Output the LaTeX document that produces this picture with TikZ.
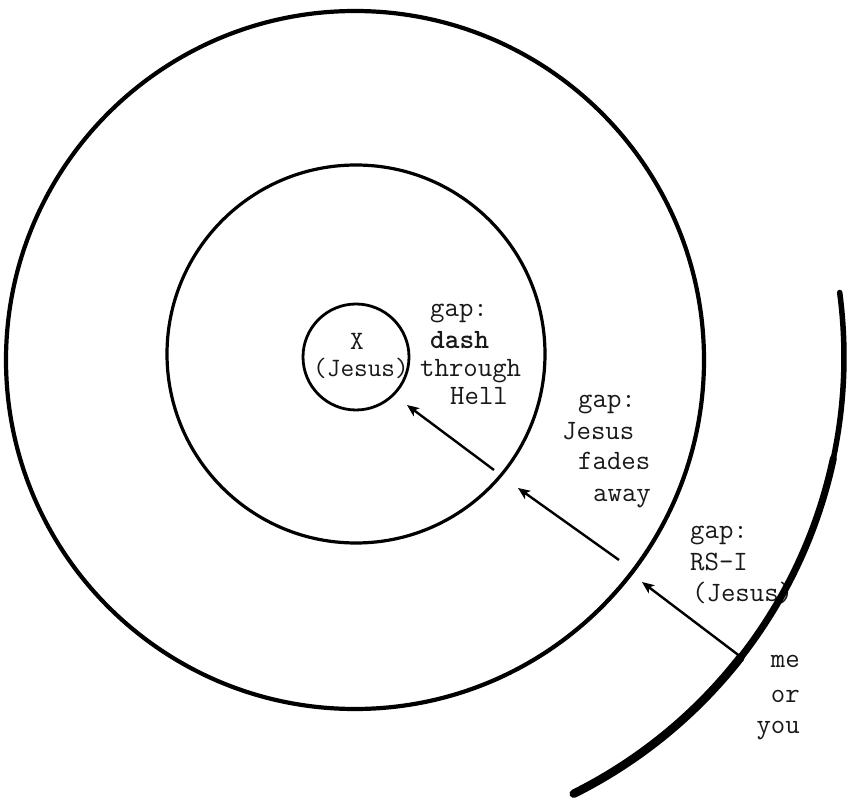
\documentclass[tikz,border=0pt]{standalone}
\usepackage{fontspec}
\usetikzlibrary{arrows.meta}
\begin{document}
\begin{tikzpicture}[x=1pt,y=-1pt,
  ring/.style={draw=black, circle, inner sep=0pt},
  lbl/.style={font=\ttfamily\fontsize{28}{30}\selectfont, text=black!90, inner sep=0pt, anchor=base west},
  lblc/.style={lbl, font=\ttfamily\fontsize{26.5}{30}\selectfont, anchor=base},
  lblr/.style={lbl, anchor=base east},
  arr/.style={line width=2.4pt, -{Stealth[length=12pt,width=10pt,inset=3pt]}},
  spiral/.style={line cap=round}]
\useasboundingbox (0,0) rectangle (847,802);
\fill[white] (0,0) rectangle (847,802);

% rings
\node[ring, minimum size=106pt, line width=2.8pt] (inner) at (356,357) {};
\node[ring, minimum size=378pt, line width=3.2pt] (middle) at (356,354) {};
\node[ring, minimum size=698pt, line width=4.2pt] (outer) at (355,360) {};

% centre labels
\node[lblc] (x) at (357,350) {X};
\node[lblc] (jesus) at (361,377) {(Jesus)};

% block 1
\node[lbl] (g1) at (430,317) {gap:};
\node[lbl] (d1) at (430,349) {\bfseries dash};
\node[lbl] (t1) at (420,377) {through};
\node[lbl] (h1) at (450,405) {Hell};

% block 2
\node[lbl] (g2) at (578,408) {gap:};
\node[lbl] (j2) at (562,440) {Jesus};
\node[lbl] (f2) at (578,470) {fades};
\node[lbl] (w2) at (593,502) {away};

% block 3
\node[lbl] (g3) at (690,539) {gap:};
\node[lbl] (r3) at (690,570) {RS-I};
\node[lbl] (j3) at (692,601) {(Jesus)};
\node[lblr] (m3) at (800,667) {me};
\node[lblr] (o3) at (800,702) {or};
\node[lblr] (y3) at (800,733) {you};

% outer spiral arc
\coordinate (sc) at (356,357);
\draw[spiral, line width=5.5pt] (sc) ++(-7.6:488) arc[start angle=-7.6, end angle=14, radius=488];
\draw[spiral, line width=7pt] (sc) ++(12:488) arc[start angle=12, end angle=40, radius=488];
\draw[spiral, line width=8.5pt] (sc) ++(38:488) arc[start angle=38, end angle=63.5, radius=488];

% arrows
\coordinate (a1s) at (494,470);
\coordinate (a1e) at (407,405);
\coordinate (a2s) at (619,560);
\coordinate (a2e) at (518,488);
\coordinate (a3s) at (741,657);
\coordinate (a3e) at (642,582);
\draw[arr] (a1s) -- (a1e);
\draw[arr] (a2s) -- (a2e);
\draw[arr] (a3s) -- (a3e);
\end{tikzpicture}
\end{document}
